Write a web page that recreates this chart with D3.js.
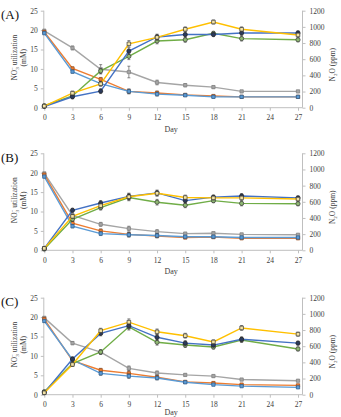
<!DOCTYPE html>
<html lang='en'>
<head>
<meta charset='UTF-8'>
<script src="https://cdnjs.cloudflare.com/ajax/libs/d3/7.8.5/d3.min.js"></script>
<style>
  body { margin: 0; background: #fff; }
  svg { display: block; font-family: 'Liberation Serif', 'Times New Roman', serif; }
  .axis text { fill: #404040; }
  .axis line { stroke: #bfbfbf; }
</style>
</head>
<body>
<svg id='chart'></svg>
<script>
'use strict'

const days = [0, 3, 6, 9, 12, 15, 18, 21, 27]
const xTicks = [0, 3, 6, 9, 12, 15, 18, 21, 24, 27]
const leftTicks = [0, 5, 10, 15, 20, 25]
const rightTicks = [0, 200, 400, 600, 800, 1000, 1200]
const panelLabels = ['(A)', '(B)', '(C)']

// NO3- utilization (mM), left axis
const no3BlueA = [19.2, 9.3, 6.2, 4.2, 3.5, 3.2, 2.8, 2.8, 2.8]
const no3OrangeA = [19.5, 10.1, 7.3, 4.2, 3.8, 3.3, 3.0, 2.8, 2.8]
const no3GrayA = [19.8, 15.4, 9.9, 9.2, 6.5, 5.8, 5.3, 4.2, 4.2]
const no3BlueB = [19.0, 6.2, 4.3, 4.0, 3.8, 3.5, 3.5, 3.3, 3.3]
const no3OrangeB = [19.5, 7.0, 5.0, 4.1, 3.7, 3.3, 3.4, 3.1, 3.1]
const no3GrayB = [19.8, 9.0, 6.7, 5.6, 4.8, 4.3, 4.4, 4.1, 4.0]
const no3BlueC = [19.0, 9.0, 5.5, 4.8, 4.3, 3.2, 2.6, 2.2, 1.9]
const no3OrangeC = [19.5, 8.8, 6.3, 5.5, 4.5, 3.3, 3.0, 2.6, 2.4]
const no3GrayC = [19.8, 13.3, 11.0, 6.8, 5.6, 5.1, 4.8, 3.9, 3.6]

// N2O (ppm), right axis
const n2oYellowA = [20, 180, 295, 790, 870, 970, 1060, 970, 900]
const n2oBlueA = [15, 135, 205, 700, 875, 905, 905, 925, 925]
const n2oGreenA = [25, 145, 455, 635, 825, 840, 920, 855, 840]
const n2oYellowB = [24, 420, 552, 662, 705, 653, 648, 648, 634]
const n2oBlueB = [24, 495, 585, 667, 710, 615, 658, 672, 648]
const n2oGreenB = [15, 384, 528, 653, 595, 557, 614, 580, 576]
const n2oYellowC = [24, 374, 792, 898, 778, 730, 653, 826, 749]
const n2oBlueC = [24, 442, 758, 854, 710, 638, 614, 686, 638]
const n2oGreenC = [38, 384, 528, 840, 648, 614, 590, 677, 566]

// error bars
const no3ErrSmall = [0.3, 0.4, 0.5, 0.6, 0.5, 0.3, 0.3, 0.2, 0.2]
const no3ErrGrayA = [0.4, 0.5, 1.2, 1.5, 0.6, 0.4, 0.3, 0.2, 0.2]
const n2oErr = [12, 25, 30, 40, 35, 30, 25, 30, 25]

const colors = { blue: '#5b9bd5', orange: '#ed7d31', gray: '#a5a5a5', yellow: '#ffc000', navy: '#4472c4', green: '#70ad47' }

const panels = [
  { no3: [no3BlueA, no3OrangeA, no3GrayA], n2o: [n2oYellowA, n2oBlueA, n2oGreenA], grayErr: no3ErrGrayA },
  { no3: [no3BlueB, no3OrangeB, no3GrayB], n2o: [n2oYellowB, n2oBlueB, n2oGreenB], grayErr: no3ErrSmall },
  { no3: [no3BlueC, no3OrangeC, no3GrayC], n2o: [n2oYellowC, n2oBlueC, n2oGreenC], grayErr: no3ErrSmall }
]

const svg = d3.select('#chart').attr('width', 341).attr('height', 417)

const tops = [10.7, 153.3, 297.7]
const plotH = 97
const x = d3.scaleLinear([0, 27], [44.3, 298])
const leftX = 43.8, rightX = 302.5
const serif = "'Liberation Serif', 'Times New Roman', serif"

function drawSeries(g, vals, errs, y, color, marker) {
  const pts = days.map((d, i) => [x(d), y(vals[i]), y(vals[i] + errs[i]), y(vals[i] - errs[i])])
  g.append('path')
    .attr('d', d3.line()(pts.map(p => [p[0], p[1]])))
    .attr('fill', 'none').attr('stroke', color).attr('stroke-width', 1.4)
  const eb = g.append('g').attr('stroke', '#404040').attr('stroke-width', 0.6)
  pts.forEach(p => {
    eb.append('line').attr('x1', p[0]).attr('x2', p[0]).attr('y1', p[2]).attr('y2', p[3])
    eb.append('line').attr('x1', p[0] - 1.5).attr('x2', p[0] + 1.5).attr('y1', p[2]).attr('y2', p[2])
    eb.append('line').attr('x1', p[0] - 1.5).attr('x2', p[0] + 1.5).attr('y1', p[3]).attr('y2', p[3])
  })
  const sym = d3.symbol().type(marker.type).size(marker.size)
  g.selectAll(null).data(pts).enter().append('path')
    .attr('d', sym)
    .attr('transform', p => `translate(${p[0]},${p[1]})`)
    .attr('fill', marker.fill).attr('stroke', marker.stroke).attr('stroke-width', 0.7)
}

panels.forEach((panel, k) => {
  const top = tops[k]
  const bottom = top + plotH
  const yL = d3.scaleLinear([0, 25], [bottom, top])
  const yR = d3.scaleLinear([0, 1200], [bottom, top])
  const g = svg.append('g')

  // axes
  const ax = g.append('g').attr('class', 'axis').attr('transform', `translate(0,${bottom})`)
    .call(d3.axisBottom(x).tickValues(xTicks).tickSize(3).tickPadding(4))
  const al = g.append('g').attr('class', 'axis').attr('transform', `translate(${leftX},0)`)
    .call(d3.axisLeft(yL).tickValues(leftTicks).tickSize(3).tickPadding(3))
  const ar = g.append('g').attr('class', 'axis').attr('transform', `translate(${rightX},0)`)
    .call(d3.axisRight(yR).tickValues(rightTicks).tickFormat(d3.format('d')).tickSize(3).tickPadding(4))
  ;[ax, al, ar].forEach(a => {
    a.select('.domain').remove()
    a.attr('font-family', serif).attr('font-size', 7.5)
  })

  g.append('line').attr('x1', leftX).attr('x2', rightX).attr('y1', bottom).attr('y2', bottom).attr('stroke', '#bfbfbf')
  g.append('line').attr('x1', leftX).attr('x2', leftX).attr('y1', top).attr('y2', bottom).attr('stroke', '#bfbfbf')
  g.append('line').attr('x1', rightX).attr('x2', rightX).attr('y1', top).attr('y2', bottom).attr('stroke', '#bfbfbf')

  // titles
  g.append('text').attr('x', 1).attr('y', top + 8.5).attr('font-size', 13).attr('fill', '#111').text(panelLabels[k])

  const lt = g.append('text').attr('transform', `translate(17,${top + 47}) rotate(-90)`)
    .attr('text-anchor', 'middle').attr('font-size', 7.5).attr('fill', '#404040')
  lt.append('tspan').text('NO')
  lt.append('tspan').attr('font-size', 5).attr('dy', 2).text('3')
  lt.append('tspan').attr('font-size', 5).attr('dx', -2.6).attr('dy', -5).text('−')
  lt.append('tspan').attr('dy', 3).text(' utilization')
  g.append('text').attr('transform', `translate(25.5,${top + 47}) rotate(-90)`)
    .attr('text-anchor', 'middle').attr('font-size', 7.5).attr('fill', '#404040').text('(mM)')

  const rt = g.append('text').attr('transform', `translate(335,${top + 54}) rotate(-90)`)
    .attr('text-anchor', 'middle').attr('font-size', 7.5).attr('fill', '#404040')
  rt.append('tspan').text('N')
  rt.append('tspan').attr('font-size', 5).attr('dy', 2).text('2')
  rt.append('tspan').attr('dy', -2).text('O (ppm)')

  g.append('text').attr('x', x(13.5)).attr('y', Math.min(bottom + 24, 414.5)).attr('text-anchor', 'middle')
    .attr('font-size', 8).attr('fill', '#404040').text('Day')

  // NO3 series
  drawSeries(g, panel.no3[2], panel.grayErr, yL, colors.gray, { type: d3.symbolSquare, size: 11, fill: '#a5a5a5', stroke: '#7f7f7f' })
  drawSeries(g, panel.no3[1], no3ErrSmall, yL, colors.orange, { type: d3.symbolSquare, size: 11, fill: colors.orange, stroke: '#9c4a17' })
  drawSeries(g, panel.no3[0], no3ErrSmall, yL, colors.blue, { type: d3.symbolSquare, size: 11, fill: colors.blue, stroke: '#2e5f8f' })

  // N2O series
  drawSeries(g, panel.n2o[2], n2oErr, yR, colors.green, { type: d3.symbolCircle, size: 14, fill: '#8fb873', stroke: '#333' })
  drawSeries(g, panel.n2o[1], n2oErr, yR, colors.navy, { type: d3.symbolCircle, size: 14, fill: '#2a3a5c', stroke: '#222' })
  drawSeries(g, panel.n2o[0], n2oErr, yR, colors.yellow, { type: d3.symbolSquare, size: 13, fill: '#f3e3a6', stroke: '#333' })
})
</script>
</body>
</html>
